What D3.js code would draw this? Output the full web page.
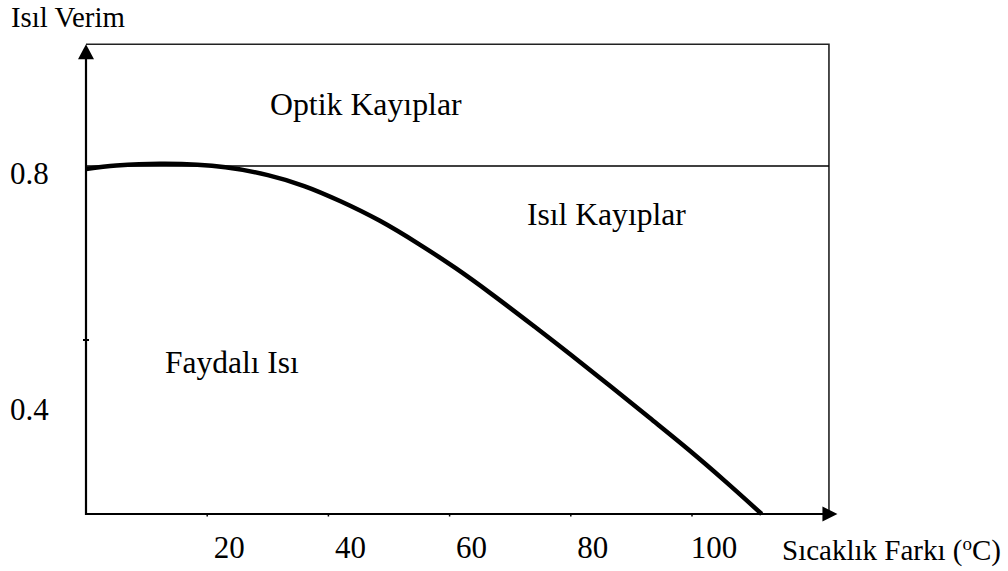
<!DOCTYPE html>
<html>
<head>
<meta charset="utf-8">
<script src="https://cdn.jsdelivr.net/npm/d3@7"></script>
<style>
  body { margin: 0; background: #fff; }
  text { font-family: "Liberation Serif", "Times New Roman", serif; fill: #000; }
</style>
</head>
<body>
<div id="chart"></div>
<script>
// Isıl verim - sıcaklık farkı eğrisi

const width = 1008;
const height = 571;

// Veriler
const sicaklikFarki = [0, 5, 13, 23, 30, 36, 42, 48.5, 55, 61, 67, 74, 80, 86.5, 93, 99.5, 105.5, 111.5];
const verim = [0.793, 0.801, 0.805, 0.797, 0.779, 0.754, 0.719, 0.674, 0.620, 0.565, 0.505, 0.431, 0.366, 0.294, 0.221, 0.147, 0.075, 0.0];
const xTicks = [20, 40, 60, 80, 100];
const yTicks = [0.4, 0.8];
const optikVerim = 0.8;

const svg = d3.select("#chart")
  .append("svg")
  .attr("width", width)
  .attr("height", height);

const x = d3.scaleLinear().domain([0, 100]).range([86, 692]);
const y = d3.scaleLinear().domain([0, 0.8]).range([514, 166]);
// etiketler çizimde eksenle tam hizalı değil
const yLabel = d3.scaleLinear().domain([0.4, 0.8]).range([420, 184]);

const xEnd = 124;     // ok ucu
const xBox = 122.6;   // sağ çerçeve
const yTop = 1.08;    // üst çerçeve / ok ucu

// Çerçeve
svg.append("path")
  .attr("d", `M${x(0)},${y(yTop)}H${x(xBox)}V${y(0)}`)
  .attr("fill", "none")
  .attr("stroke", "#222")
  .attr("stroke-width", 1.6);

// Optik kayıp sınırı
svg.append("line")
  .attr("x1", x(0)).attr("x2", x(xBox))
  .attr("y1", y(optikVerim)).attr("y2", y(optikVerim))
  .attr("stroke", "#000")
  .attr("stroke-width", 1.6);

// Eksenler
svg.append("line")
  .attr("x1", x(0)).attr("x2", x(0))
  .attr("y1", y(0) + 1).attr("y2", y(yTop) + 10)
  .attr("stroke", "#000").attr("stroke-width", 2.2);

svg.append("line")
  .attr("x1", x(0) - 1).attr("x2", x(xEnd) - 10)
  .attr("y1", y(0)).attr("y2", y(0))
  .attr("stroke", "#000").attr("stroke-width", 2.2);

// Oklar
svg.append("path")
  .attr("d", `M${x(0)},${y(yTop)}L${x(0) - 8},${y(yTop) + 15}L${x(0) + 8},${y(yTop) + 15}Z`)
  .attr("fill", "#000");

svg.append("path")
  .attr("d", `M${x(xEnd)},${y(0)}L${x(xEnd) - 15},${y(0) - 7.5}L${x(xEnd) - 15},${y(0) + 7.5}Z`)
  .attr("fill", "#000");

// Tik işaretleri
svg.append("g")
  .selectAll("line")
  .data(xTicks)
  .enter().append("line")
  .attr("x1", d => x(d)).attr("x2", d => x(d))
  .attr("y1", y(0) - 1).attr("y2", y(0) + 2.5)
  .attr("stroke", "#000").attr("stroke-width", 1.5);

svg.append("g")
  .selectAll("line")
  .data(yTicks.filter(d => d !== optikVerim))
  .enter().append("line")
  .attr("x1", x(0) - 3).attr("x2", x(0) + 3)
  .attr("y1", d => y(d)).attr("y2", d => y(d))
  .attr("stroke", "#000").attr("stroke-width", 2);

// Tik etiketleri
svg.append("g")
  .selectAll("text")
  .data(xTicks)
  .enter().append("text")
  .attr("x", d => x(d) + 22)
  .attr("y", 558)
  .attr("text-anchor", "middle")
  .attr("font-size", 31)
  .text(d => d);

svg.append("g")
  .selectAll("text")
  .data(yTicks)
  .enter().append("text")
  .attr("x", 10)
  .attr("y", d => yLabel(d))
  .attr("font-size", 31)
  .text(d => d.toFixed(1));

// Eğri
const line = d3.line()
  .x(d => x(d[0]))
  .y(d => y(d[1]))
  .curve(d3.curveCatmullRom.alpha(0.5));

svg.append("path")
  .datum(d3.zip(sicaklikFarki, verim))
  .attr("d", line)
  .attr("fill", "none")
  .attr("stroke", "#000")
  .attr("stroke-width", 4.5);

// Eksen başlıkları
svg.append("text")
  .attr("x", 11).attr("y", 27)
  .attr("font-size", 28.8)
  .text("Isıl Verim");

const xt = svg.append("text")
  .attr("x", 782).attr("y", 560)
  .attr("font-size", 29);
xt.append("tspan").text("Sıcaklık Farkı (");
xt.append("tspan").attr("font-size", 19).attr("dy", -10).text("o");
xt.append("tspan").attr("dy", 10).text("C)");

// Bölge etiketleri
svg.append("text")
  .attr("x", 270).attr("y", 115)
  .attr("font-size", 31.8)
  .text("Optik Kayıplar");

svg.append("text")
  .attr("x", 527).attr("y", 225)
  .attr("font-size", 31.6)
  .text("Isıl Kayıplar");

svg.append("text")
  .attr("x", 165).attr("y", 373)
  .attr("font-size", 31.5)
  .text("Faydalı Isı");
</script>
</body>
</html>
